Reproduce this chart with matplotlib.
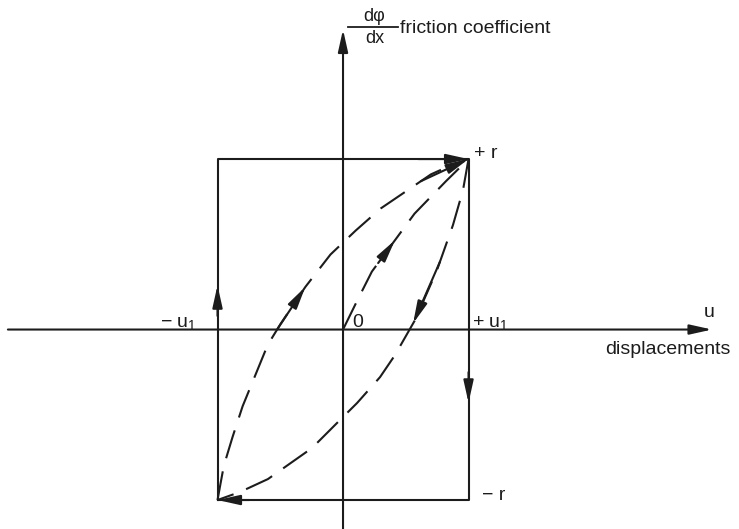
import numpy as np
import matplotlib.pyplot as plt

plt.rcParams['font.family'] = ['Liberation Sans', 'DejaVu Sans']
plt.rcParams['mathtext.fontset'] = 'custom'
plt.rcParams['mathtext.rm'] = 'Liberation Sans'
plt.rcParams['mathtext.it'] = 'Liberation Sans'

INK = '#1c1c1c'

# --------------------------------
# Data (u in units of u1, friction in units of r)
# --------------------------------
u1 = 1.0
r = 1.0

# loading branch  (-u1,-r) -> (+u1,+r)
up_u = [-1.00, -0.95, -0.88, -0.80, -0.70, -0.60, -0.50, -0.30, -0.10, 0.10, 0.30, 0.50, 0.70, 0.85, 1.00]
up_f = [-1.00, -0.80, -0.63, -0.45, -0.27, -0.09, 0.03, 0.25, 0.44, 0.58, 0.71, 0.81, 0.91, 0.96, 1.00]

# unloading branch (+u1,+r) -> (-u1,-r)
down_u = [1.00, 0.956, 0.876, 0.749, 0.574, 0.414, 0.295, 0.112, 0.00, -0.247, -0.598, -0.821, -1.00]
down_f = [1.00, 0.818, 0.613, 0.349, 0.056, -0.150, -0.279, -0.431, -0.513, -0.695, -0.877, -0.953, -1.00]

# first loading from the origin
first_u = [0.00, 0.12, 0.23, 0.41, 0.57, 0.82, 1.00]
first_f = [0.00, 0.18, 0.34, 0.52, 0.68, 0.87, 1.00]


def on_curve(xs, ys, x):
    xs = np.asarray(xs)
    ys = np.asarray(ys)
    order = np.argsort(xs)
    return np.interp(x, xs[order], ys[order])


def arrow(x0, y0, x1, y1, hl=0.9, hw=0.2):
    ax.annotate(
        '',
        xy=(x1, y1),
        xytext=(x0, y0),
        arrowprops=dict(
            arrowstyle=f'-|>,head_length={hl},head_width={hw}',
            color=INK, lw=1.5,
            shrinkA=0, shrinkB=0,
            mutation_scale=15
        )
    )


def curve_arrow(xs, ys, x0, x1):
    arrow(x0, on_curve(xs, ys, x0), x1, on_curve(xs, ys, x1))


# --------------------------------
# Figure
# --------------------------------
fig = plt.figure(figsize=(7.39, 5.29), dpi=100)
ax = fig.add_axes([0, 0, 1, 1])
ax.set_xlim(-2.733, 3.155)
ax.set_ylim(-1.170, 1.933)
ax.axis('off')

# axes
arrow(-2.67, 0, 2.94, 0)
arrow(0, -1.17, 0, 1.76)

# rectangle (rigid friction)
ax.plot([-u1, -u1, u1, u1, -u1], [-r, r, r, -r, -r], color=INK, lw=1.5)
arrow(0.6, r, u1, r)
arrow(u1, -0.25, u1, -0.43)
arrow(-0.75, -r, -u1, -r)
arrow(-u1, 0.08, -u1, 0.26)

# dashed curves
for xs, ys in [(up_u, up_f), (down_u, down_f), (first_u, first_f)]:
    ax.plot(xs, ys, color=INK, lw=1.5, dashes=(14, 6.5))

curve_arrow(up_u, up_f, -0.52, -0.30)
curve_arrow(up_u, up_f, 0.62, 1.0)
curve_arrow(first_u, first_f, 0.28, 0.414)
curve_arrow(down_u, down_f, 0.773, 0.558)

# --------------------------------
# Labels
# --------------------------------
fs = 14
ax.text(2.916, 0.10, 'u', fontsize=fs, ha='center', va='center', color=INK)
ax.text(2.09, -0.12, 'displacements', fontsize=fs, ha='left', va='center', color=INK)
ax.text(1.03, 0.012, '+ u$_1$', fontsize=fs, ha='left', va='baseline', color=INK)
ax.text(-1.46, 0.012, '\u2212 u$_1$', fontsize=fs, ha='left', va='baseline', color=INK)
ax.text(0.072, 0.044, '0', fontsize=fs, ha='left', va='center', color=INK)
ax.text(1.044, 1.035, '+ r', fontsize=fs, ha='left', va='center', color=INK)
ax.text(1.108, -0.971, '\u2212 r', fontsize=fs, ha='left', va='center', color=INK)

# d(phi)/dx label
ax.text(0.247, 1.839, 'd\u03c6', fontsize=13, ha='center', va='center', color=INK)
ax.plot([0.04, 0.44], [1.774, 1.774], color=INK, lw=1.3)
ax.text(0.255, 1.705, 'dx', fontsize=13, ha='center', va='center', color=INK)
ax.text(0.454, 1.742, 'friction coefficient', fontsize=fs, ha='left', va='baseline', color=INK)

fig.savefig('out.png', dpi=100, facecolor='white')
